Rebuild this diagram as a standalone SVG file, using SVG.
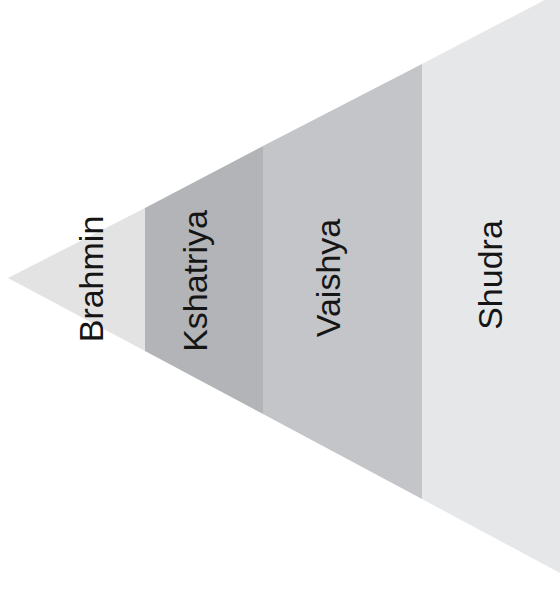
<svg xmlns="http://www.w3.org/2000/svg" width="560" height="594" viewBox="0 0 560 594">
<style>
text{font-family:"Liberation Sans",Arial,sans-serif;font-size:34px;fill:#151515;text-anchor:middle}
</style>
<rect width="560" height="594" fill="#ffffff"/>
<g id="shudra">
<polygon points="422,64 560,-8 560,573 422,499" fill="#e6e7e9"/>
<text transform="translate(502,275) rotate(-90)">Shudra</text>
</g>
<g id="vaishya">
<polygon points="263,146 422,64 422,499 263,414" fill="#c3c5c8"/>
<text transform="translate(340,278) rotate(-90)">Vaishya</text>
</g>
<g id="kshatriya">
<polygon points="145,208 263,146 263,414 145,351" fill="#b2b4b7"/>
<text transform="translate(207,281) rotate(-90)">Kshatriya</text>
</g>
<g id="brahmin">
<polygon points="8,278 145,208 145,351" fill="#e3e3e4"/>
<text transform="translate(103,279) rotate(-90)">Brahmin</text>
</g>
<g id="connectors"></g>
</svg>
